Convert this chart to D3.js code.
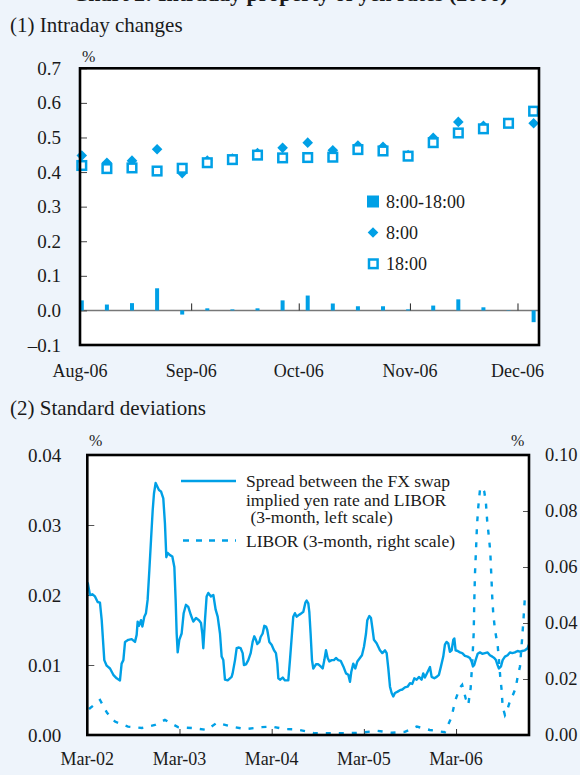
<!DOCTYPE html>
<html><head><meta charset="utf-8">
<script src="https://cdn.jsdelivr.net/npm/d3@7"></script>
<style>
html,body{margin:0;padding:0;background:#EEF4FB;}
svg{display:block;}
text{font-family:"Liberation Serif","DejaVu Serif",serif;fill:#1a1a1a;}
</style></head><body>
<svg id="c" width="580" height="775"></svg>
<script>
// ---------- Panel 1 data ----------
const weekDates = ["2006-08-01","2006-08-08","2006-08-15","2006-08-22","2006-08-29","2006-09-05","2006-09-12","2006-09-19","2006-09-26","2006-10-03","2006-10-10","2006-10-17","2006-10-24","2006-10-31","2006-11-07","2006-11-14","2006-11-21","2006-11-28","2006-12-05"];
const rate0800 = [0.448,0.427,0.433,0.466,0.397,0.433,0.439,0.455,0.470,0.485,0.463,0.477,0.473,0.449,0.499,0.545,0.534,0.542,0.541];
const rate1800 = [0.419,0.410,0.412,0.403,0.411,0.427,0.436,0.449,0.441,0.442,0.443,0.465,0.461,0.446,0.485,0.513,0.525,0.541,0.576];
const change0818 = [0.029,0.017,0.021,0.064,-0.012,0.006,0.003,0.006,0.029,0.043,0.020,0.012,0.012,0.003,0.014,0.032,0.009,0.001,-0.034];
const p1TickValues = [-0.1,0,0.1,0.2,0.3,0.4,0.5,0.6,0.7];
const p1TickLabels = ["\u20130.1","0.0","0.1","0.2","0.3","0.4","0.5","0.6","0.7"];
const p1MonthDates = ["2006-08-01","2006-09-01","2006-10-01","2006-11-01","2006-12-01"];
const p1MonthLabels = ["Aug-06","Sep-06","Oct-06","Nov-06","Dec-06"];
const p1Legend = ["8:00-18:00","8:00","18:00"];

// ---------- Panel 2 data (x in decimal years) ----------
const spreadYears = [2002.171,2002.196,2002.221,2002.250,2002.279,2002.304,2002.323,2002.351,2002.377,2002.413,2002.449,2002.485,2002.521,2002.539,2002.558,2002.576,2002.612,2002.648,2002.684,2002.702,2002.713,2002.727,2002.749,2002.764,2002.785,2002.803,2002.821,2002.840,2002.858,2002.876,2002.890,2002.908,2002.926,2002.944,2002.966,2002.991,2003.009,2003.024,2003.038,2003.064,2003.089,2003.111,2003.125,2003.136,2003.147,2003.165,2003.190,2003.212,2003.237,2003.262,2003.291,2003.317,2003.346,2003.378,2003.400,2003.414,2003.425,2003.443,2003.461,2003.479,2003.508,2003.534,2003.559,2003.581,2003.606,2003.624,2003.642,2003.660,2003.689,2003.714,2003.732,
2003.743,2003.769,2003.787,2003.805,2003.830,2003.852,2003.866,2003.888,2003.913,2003.939,2003.960,2003.978,2003.996,2004.011,2004.033,2004.047,2004.069,2004.087,2004.105,2004.119,2004.141,2004.166,2004.192,2004.213,2004.228,2004.239,2004.257,2004.286,2004.311,2004.347,2004.365,2004.387,2004.401,2004.419,2004.438,2004.456,2004.481,2004.510,2004.532,2004.546,2004.564,2004.575,2004.589,2004.604,2004.618,2004.647,2004.673,2004.698,2004.720,2004.738,2004.756,2004.774,2004.792,2004.817,2004.842,2004.864,2004.889,2004.915,2004.944,2004.973,2004.998,2005.016,2005.030,2005.052,2005.074,2005.096,2005.124,2005.146,2005.168,2005.190,2005.204,2005.226,2005.244,2005.262,2005.276,2005.305,
2005.341,2005.367,2005.396,2005.414,2005.432,2005.450,2005.468,2005.486,2005.504,2005.533,2005.558,2005.584,2005.612,2005.641,2005.667,2005.692,2005.714,2005.739,2005.764,2005.793,2005.811,2005.829,2005.858,2005.884,2005.902,2005.931,2005.956,2005.981,2006.003,2006.028,2006.046,2006.064,2006.082,2006.100,2006.119,2006.137,2006.148,2006.162,2006.184,2006.209,2006.234,2006.263,2006.292,2006.317,2006.335,2006.350,2006.364,2006.379,2006.401,2006.426,2006.451,2006.480,2006.509,2006.534,2006.560,2006.581,2006.599,2006.617,2006.632,2006.654,2006.672,2006.697,2006.726,2006.751,2006.777,2006.805,2006.834,2006.860,2006.885,2006.914,2006.943,2006.957];
const spreadValues = [0.0218,0.0200,0.0201,0.0198,0.0190,0.0189,0.0164,0.0107,0.0099,0.0095,0.0086,0.0081,0.0078,0.0102,0.0107,0.0133,0.0136,0.0137,0.0133,0.0143,0.0162,0.0156,0.0164,0.0155,0.0169,0.0174,0.0193,0.0236,0.0279,0.0321,0.0345,0.0360,0.0355,0.0350,0.0348,0.0338,0.0302,0.0254,0.0260,0.0257,0.0255,0.0240,0.0193,0.0145,0.0118,0.0136,0.0145,0.0174,0.0186,0.0183,0.0171,0.0162,0.0167,0.0164,0.0160,0.0145,0.0124,0.0164,0.0198,0.0203,0.0198,0.0200,0.0179,0.0169,0.0145,0.0112,0.0107,0.0079,0.0078,0.0081,0.0083,
0.0088,0.0107,0.0124,0.0125,0.0124,0.0117,0.0100,0.0101,0.0107,0.0117,0.0133,0.0141,0.0136,0.0130,0.0133,0.0140,0.0145,0.0156,0.0155,0.0150,0.0133,0.0129,0.0121,0.0117,0.0102,0.0081,0.0079,0.0082,0.0078,0.0078,0.0107,0.0145,0.0169,0.0174,0.0169,0.0171,0.0173,0.0176,0.0189,0.0192,0.0188,0.0176,0.0145,0.0107,0.0095,0.0101,0.0101,0.0098,0.0095,0.0107,0.0121,0.0110,0.0105,0.0107,0.0107,0.0110,0.0107,0.0106,0.0098,0.0088,0.0086,0.0076,0.0090,0.0102,0.0095,0.0105,0.0110,0.0114,0.0126,0.0145,0.0164,0.0170,0.0167,0.0150,0.0136,0.0131,
0.0121,0.0117,0.0121,0.0117,0.0095,0.0069,0.0060,0.0055,0.0060,0.0062,0.0064,0.0065,0.0068,0.0069,0.0074,0.0073,0.0081,0.0079,0.0083,0.0079,0.0088,0.0082,0.0090,0.0097,0.0083,0.0081,0.0083,0.0086,0.0098,0.0112,0.0129,0.0133,0.0131,0.0119,0.0121,0.0136,0.0138,0.0121,0.0120,0.0118,0.0117,0.0113,0.0112,0.0110,0.0105,0.0098,0.0100,0.0107,0.0116,0.0118,0.0116,0.0117,0.0118,0.0114,0.0112,0.0110,0.0107,0.0100,0.0095,0.0098,0.0107,0.0112,0.0114,0.0118,0.0117,0.0118,0.0120,0.0119,0.0120,0.0121,0.0124,0.0129];
const liborYears = [2002.185,2002.305,2002.381,2002.467,2002.608,2002.760,2002.901,2003.009,2003.150,2003.302,2003.465,2003.573,2003.736,2003.877,2004.061,2004.170,2004.311,2004.441,2004.637,2004.799,2004.962,2005.125,2005.309,2005.472,2005.611,2005.741,2005.882,2006.045,2006.119,2006.154,2006.208,2006.233,2006.271,2006.299,2006.325,2006.342,2006.358,2006.364,2006.372,2006.383,2006.394,2006.408,2006.426,2006.444,2006.473,2006.491,2006.505,2006.523,2006.538,2006.545,2006.553,2006.559,2006.570,2006.589,2006.618,2006.632,2006.646,2006.661,2006.672,2006.697,2006.715,2006.744,2006.776,2006.813,2006.835,2006.860,2006.871,2006.885,2006.900,2006.914,2006.932];
const liborValues = [0.0093,0.0125,0.0079,0.0048,0.0030,0.0025,0.0036,0.0054,0.0028,0.0025,0.0018,0.0044,0.0030,0.0021,0.0028,0.0030,0.0021,0.0020,0.0006,0.0006,0.0006,0.0008,0.0015,0.0008,0.0011,0.0030,0.0018,0.0010,0.0065,0.0119,0.0169,0.0179,0.0131,0.0107,0.0167,0.0256,0.0363,0.0470,0.0577,0.0660,0.0750,0.0815,0.0875,0.0885,0.0869,0.0827,0.0762,0.0708,0.0655,0.0601,0.0542,0.0494,0.0435,0.0375,0.0321,0.0268,0.0208,0.0161,0.0101,0.0071,0.0083,0.0113,0.0137,0.0167,0.0208,0.0244,0.0292,0.0351,0.0423,0.0494,0.0506];
const p2LeftTicks = [0,0.01,0.02,0.03,0.04];
const p2LeftLabels = ["0.00","0.01","0.02","0.03","0.04"];
const p2RightTicks = [0,0.02,0.04,0.06,0.08,0.10];
const p2RightLabels = ["0.00","0.02","0.04","0.06","0.08","0.10"];
const p2XTicks = [2002.1667,2003.1667,2004.1667,2005.1667,2006.1667];
const p2XLabels = ["Mar-02","Mar-03","Mar-04","Mar-05","Mar-06"];
const p2Legend1 = ["Spread between the FX swap","implied yen rate and LIBOR"," (3-month, left scale)"];
const p2Legend2 = "LIBOR (3-month, right scale)";

// ---------- drawing ----------
const BLUE = "#00A0E6";
const svg = d3.select("#c");
const parse = d3.timeParse("%Y-%m-%d");

// top title (cut off by the page edge in the reference)
svg.append("text").attr("x",290).attr("y",0.5).attr("text-anchor","middle")
  .style("font-size","22px").style("font-weight","bold").text("Chart 2: Intraday property of yen rates (2006)");

// ===== Panel 1 =====
svg.append("text").attr("x",10).attr("y",32).style("font-size","21px").text("(1) Intraday changes");
const p1 = {l:80,r:539,t:68.3,b:345};
const x1 = d3.scaleTime().domain([parse("2006-08-01"), parse("2006-12-07")]).range([p1.l,p1.r]);
const y1 = d3.scaleLinear().domain([-0.1,0.7]).range([p1.b,p1.t]);
svg.append("rect").attr("x",p1.l).attr("y",p1.t).attr("width",p1.r-p1.l).attr("height",p1.b-p1.t).attr("fill","#fff");
svg.append("line").attr("x1",p1.l).attr("x2",p1.r).attr("y1",y1(0)).attr("y2",y1(0)).attr("stroke","#777").attr("stroke-width",1.5);
const gy1 = svg.append("g").attr("transform",`translate(${p1.l},0)`)
  .call(d3.axisLeft(y1).tickValues(p1TickValues).tickSize(-7).tickPadding(19).tickFormat((d,i)=>p1TickLabels[i]));
gy1.select(".domain").remove();
gy1.selectAll("line").attr("stroke","#444");
gy1.selectAll("text").style("font-size","19px").style("font-family",'"Liberation Serif",serif').attr("fill","#1a1a1a");
const monthD = p1MonthDates.map(parse);
const gx1 = svg.append("g").attr("transform",`translate(0,${y1(0)})`)
  .call(d3.axisTop(x1).tickValues(monthD.slice(1)).tickSize(7).tickFormat(""));
gx1.select(".domain").remove();
gx1.selectAll("line").attr("stroke","#222");
svg.append("g").selectAll("text").data(monthD).join("text")
  .attr("x",d=>x1(d)).attr("y",377).attr("text-anchor","middle").style("font-size","18px").text((d,i)=>p1MonthLabels[i]);
svg.append("text").attr("x",82).attr("y",62).style("font-size","16px").text("%");
const hour12 = d=>{const t=parse(d); t.setHours(12); return t;};
svg.append("g").selectAll("rect").data(change0818).join("rect")
  .attr("x",(d,i)=>x1(hour12(weekDates[i]))-2).attr("width",4)
  .attr("y",d=>y1(Math.max(0,d))).attr("height",d=>Math.abs(y1(d)-y1(0)))
  .attr("fill",BLUE);
const diamond = (cx,cy,s)=>`M${cx},${cy-s}L${cx+s},${cy}L${cx},${cy+s}L${cx-s},${cy}Z`;
svg.append("g").selectAll("path").data(rate0800).join("path")
  .attr("d",(d,i)=>diamond(x1(hour12(weekDates[i])),y1(d),5.3)).attr("fill",BLUE);
svg.append("g").selectAll("rect").data(rate1800).join("rect")
  .attr("x",(d,i)=>x1(hour12(weekDates[i]))-4.3).attr("y",d=>y1(d)-4.3)
  .attr("width",8.6).attr("height",8.6).attr("fill","#fff").attr("stroke",BLUE).attr("stroke-width",2.5);
const lg = svg.append("g");
lg.append("rect").attr("x",367).attr("y",195.5).attr("width",12).attr("height",12).attr("fill",BLUE);
lg.append("path").attr("d",diamond(373,232.5,5.3)).attr("fill",BLUE);
lg.append("rect").attr("x",369).attr("y",259.5).attr("width",8.6).attr("height",8.6).attr("fill","#fff").attr("stroke",BLUE).attr("stroke-width",2.5);
[208,239,270].forEach((yy,i)=>lg.append("text").attr("x",386).attr("y",yy).style("font-size","18px").text(p1Legend[i]));
svg.append("rect").attr("x",p1.l).attr("y",p1.t).attr("width",p1.r-p1.l).attr("height",p1.b-p1.t)
  .attr("fill","none").attr("stroke","#000").attr("stroke-width",2.6);

// ===== Panel 2 =====
svg.append("text").attr("x",10).attr("y",415).style("font-size","21px").text("(2) Standard deviations");
const p2 = {l:87.3,r:529,t:455,b:735};
const x2 = d3.scaleLinear().domain([2002.1667,2006.958]).range([p2.l,p2.r]);
const y2L = d3.scaleLinear().domain([0,0.04]).range([p2.b,p2.t]);
const y2R = d3.scaleLinear().domain([0,0.10]).range([p2.b,p2.t]);
svg.append("rect").attr("x",p2.l).attr("y",p2.t).attr("width",p2.r-p2.l).attr("height",p2.b-p2.t).attr("fill","#fff");
svg.append("defs").append("clipPath").attr("id","clip2").append("rect")
  .attr("x",p2.l).attr("y",p2.t).attr("width",p2.r-p2.l).attr("height",p2.b-p2.t);
const gl = svg.append("g").attr("transform",`translate(${p2.l},0)`)
  .call(d3.axisLeft(y2L).tickValues(p2LeftTicks).tickSize(-7).tickPadding(26).tickFormat((d,i)=>p2LeftLabels[i]));
gl.select(".domain").remove();
gl.selectAll("line").attr("stroke","#555");
gl.selectAll("text").style("font-size","19px").style("font-family",'"Liberation Serif",serif').attr("fill","#1a1a1a");
const gr = svg.append("g").attr("transform",`translate(${p2.r},0)`)
  .call(d3.axisRight(y2R).tickValues(p2RightTicks).tickSize(-6).tickPadding(16).tickFormat((d,i)=>p2RightLabels[i]));
gr.select(".domain").remove();
gr.selectAll("line").attr("stroke","#555");
gr.selectAll("text").style("font-size","18.5px").style("font-family",'"Liberation Serif",serif').attr("fill","#1a1a1a");
const gb = svg.append("g").attr("transform",`translate(0,${p2.b})`)
  .call(d3.axisTop(x2).tickValues(p2XTicks.slice(1)).tickSize(6).tickFormat(""));
gb.select(".domain").remove();
gb.selectAll("line").attr("stroke","#333");
svg.append("g").selectAll("text").data(p2XTicks).join("text")
  .attr("x",d=>x2(d)).attr("y",765).attr("text-anchor","middle").style("font-size","18px").text((d,i)=>p2XLabels[i]);
svg.append("text").attr("x",89).attr("y",446).style("font-size","16px").text("%");
svg.append("text").attr("x",511).attr("y",446).style("font-size","16px").text("%");
const lineS = d3.line().x((d,i)=>x2(spreadYears[i])).y(d=>y2L(d));
const lineL = d3.line().x((d,i)=>x2(liborYears[i])).y(d=>y2R(d));
const gLines = svg.append("g").attr("clip-path","url(#clip2)");
gLines.append("path").attr("d",lineL(liborValues)).attr("fill","none").attr("stroke",BLUE)
  .attr("stroke-width",2.4).attr("stroke-dasharray","5,8");
gLines.append("path").attr("d",lineS(spreadValues)).attr("fill","none").attr("stroke",BLUE)
  .attr("stroke-width",2.4).attr("stroke-linejoin","round");
svg.append("line").attr("x1",181).attr("x2",236).attr("y1",481).attr("y2",481).attr("stroke",BLUE).attr("stroke-width",2.4);
svg.append("line").attr("x1",183).attr("x2",236).attr("y1",540.5).attr("y2",540.5).attr("stroke",BLUE).attr("stroke-width",2.6).attr("stroke-dasharray","6,7");
[487,505.5,523].forEach((yy,i)=>svg.append("text").attr("x",246).attr("y",yy).attr("xml:space","preserve").style("white-space","pre").style("font-size","17.5px").text(p2Legend1[i]));
svg.append("text").attr("x",246).attr("y",547).style("font-size","17.5px").text(p2Legend2);
svg.append("rect").attr("x",p2.l).attr("y",p2.t).attr("width",p2.r-p2.l).attr("height",p2.b-p2.t)
  .attr("fill","none").attr("stroke","#000").attr("stroke-width",2.6);
</script>
</body></html>
